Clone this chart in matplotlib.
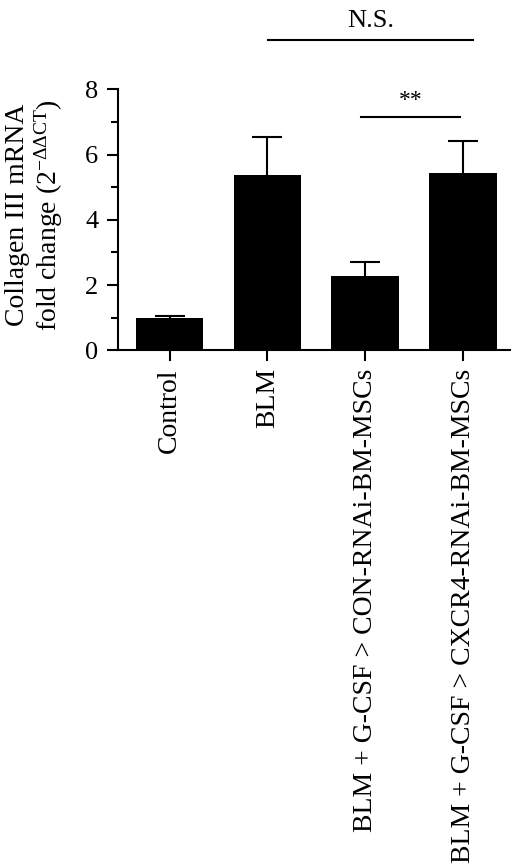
import numpy as np
import matplotlib
matplotlib.use("Agg")
import matplotlib.pyplot as plt

plt.rcParams['font.family'] = ['Liberation Serif', 'DejaVu Serif']
plt.rcParams['mathtext.fontset'] = 'custom'
plt.rcParams['mathtext.rm'] = 'Liberation Serif'
plt.rcParams['mathtext.it'] = 'Liberation Serif:italic'

groups = ["Control", "BLM",
          "BLM + G-CSF > CON-RNAi-BM-MSCs",
          "BLM + G-CSF > CXCR4-RNAi-BM-MSCs"]
means = [1.0, 5.37, 2.28, 5.43]
errs = [0.06, 1.17, 0.43, 0.98]

fig = plt.figure(figsize=(5.12, 8.67), dpi=100)
ax = fig.add_axes([0.230, 0.596, 0.766, 0.301])

x = np.arange(len(groups))
ax.bar(x, means, width=0.69, color='black', zorder=2)
eb = ax.errorbar(x, means, yerr=[np.zeros(len(errs)), errs], fmt='none',
                 ecolor='black', elinewidth=1.5, capsize=11, capthick=1.5, zorder=1)
# hide the lower caps (zero-length lower error)
eb[1][0].set_visible(False)

ax.set_xlim(-0.53, 3.48)
ax.set_ylim(0, 8)
ax.set_yticks([0, 2, 4, 6, 8])
ax.set_yticks([1, 3, 5, 7], minor=True)
ax.set_xticks(x)
ax.set_xticklabels(groups, rotation=90, fontsize=20)
ax.tick_params(axis='y', labelsize=19, width=1.5, length=8, pad=6)
ax.tick_params(axis='y', which='minor', width=1.5, length=5)
ax.tick_params(axis='x', width=1.5, length=8, pad=5)
for s in ['top', 'right']:
    ax.spines[s].set_visible(False)
for s in ['left', 'bottom']:
    ax.spines[s].set_linewidth(1.5)

ax.set_ylabel("Collagen III mRNA\nfold change (2$^{-\\Delta\\Delta\\mathrm{CT}}$)",
              fontsize=20, linespacing=1.1)
ax.yaxis.set_label_coords(-0.135, 0.52)

# significance markers
ax.plot([1.96, 2.97], [7.15, 7.15], color='black', lw=1.5, clip_on=False)
ax.text(2.47, 7.35, "**", ha='center', va='bottom', fontsize=17)
ax.plot([1.01, 3.10], [9.5, 9.5], color='black', lw=1.5, clip_on=False)
ax.text(2.06, 9.75, "N.S.", ha='center', va='bottom', fontsize=19)

fig.savefig("out.png", dpi=100)
